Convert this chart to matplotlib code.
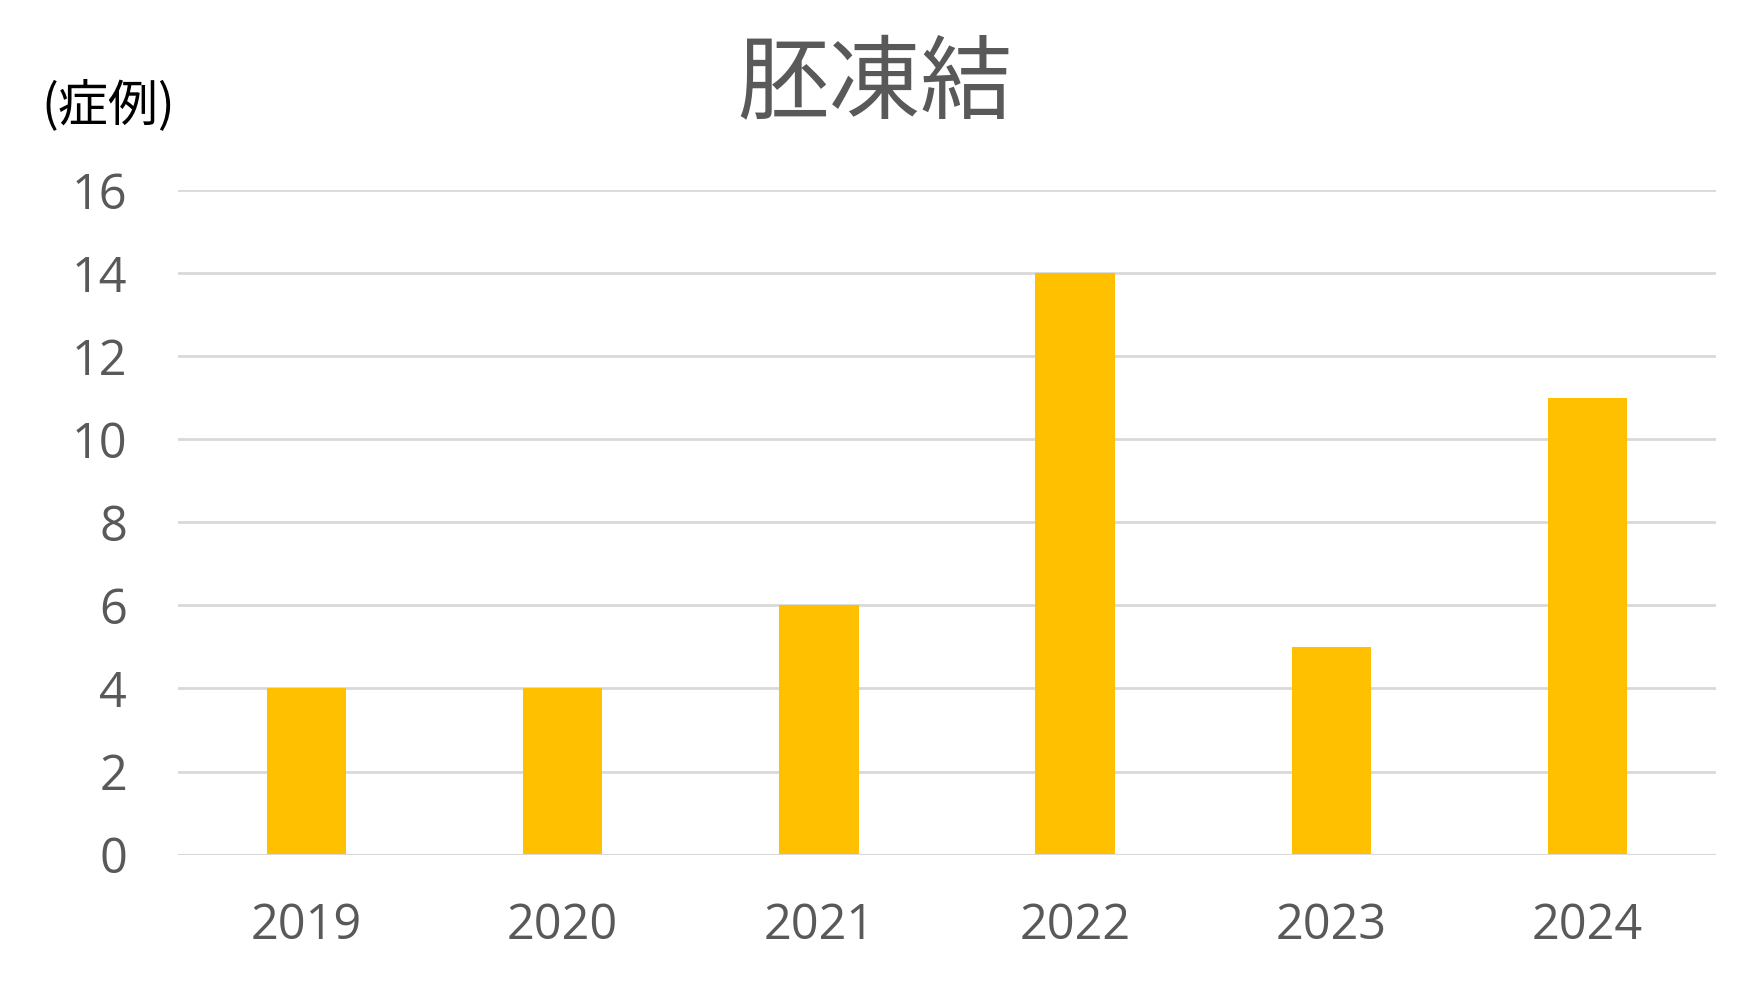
import matplotlib
matplotlib.use("Agg")
import matplotlib.pyplot as plt

years = ["2019", "2020", "2021", "2022", "2023", "2024"]
cases = [4, 4, 6, 14, 5, 11]
yticks = [0, 2, 4, 6, 8, 10, 12, 14, 16]
title = "胚凍結"
unit_label = "(症例)"

plt.rcParams['font.family'] = ['Open Sans', 'Noto Sans CJK JP', 'DejaVu Sans']

fig = plt.figure(figsize=(17.4, 10.05), dpi=100)
ax = fig.add_axes([0.1025, 0.1496, 0.8835, 0.6614])

x = list(range(len(years)))
ax.bar(x, cases, width=0.31, color="#FFC000", zorder=2)

ax.set_xlim(-0.5, len(years) - 0.5)
ax.set_ylim(0, 16)
ax.set_yticks(yticks)
ax.set_xticks(x)
ax.set_xticklabels(years)
ax.grid(axis='y', color="#D9D9D9", linewidth=2, zorder=0)
ax.set_axisbelow(True)
ax.axhline(0, color="#D9D9D9", linewidth=2.2, zorder=3)

for s in ax.spines.values():
    s.set_visible(False)
ax.tick_params(axis='both', length=0, labelsize=35, labelcolor="#595959")
ax.tick_params(axis='y', pad=37)
ax.tick_params(axis='x', pad=34)

fig.text(0.503, 0.915, title, ha='center', va='center', fontsize=66,
         color="#595959", family=['Noto Sans CJK JP', 'DejaVu Sans'])
fig.text(0.024, 0.894, unit_label, ha='left', va='center', fontsize=36,
         color="black", family=['Noto Sans CJK JP', 'DejaVu Sans'])

fig.savefig("out.png", dpi=100, facecolor="white")
